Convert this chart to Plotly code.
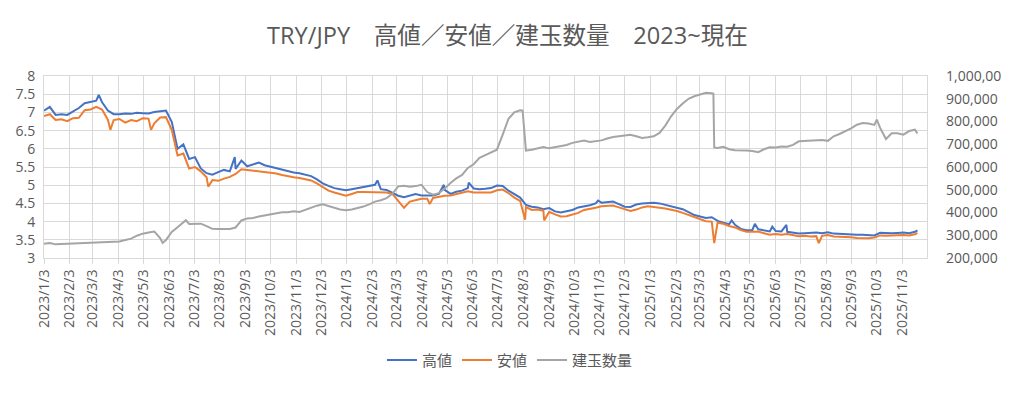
import pandas as pd
import plotly.graph_objects as go

# ---------------- data ----------------
week_dates = pd.date_range("2023-01-03", periods=151, freq="7D")

high_weekly = [
    7.05, 7.15, 6.93, 6.95, 6.93, 7.02, 7.12, 7.25, 7.29, 7.32,
    7.28, 7.05, 6.95, 6.95, 6.97, 6.96, 6.99, 6.98, 6.97, 7.01,
    7.02, 7.05, 6.74, 6.00, 6.12, 5.72, 5.77, 5.46, 5.33, 5.29,
    5.36, 5.42, 5.38, 5.45, 5.68, 5.52, 5.58, 5.62, 5.55, 5.51,
    5.45, 5.42, 5.38, 5.35, 5.33, 5.30, 5.25, 5.16, 5.05, 4.98,
    4.92, 4.89, 4.86, 4.89, 4.92, 4.93, 4.96, 5.01, 4.89, 4.87,
    4.80, 4.71, 4.67, 4.71, 4.76, 4.72, 4.71, 4.72, 4.76, 4.87,
    4.76, 4.82, 4.85, 4.92, 4.91, 4.89, 4.90, 4.92, 4.99, 4.98,
    4.85, 4.76, 4.66, 4.46, 4.41, 4.39, 4.34, 4.37, 4.28, 4.25,
    4.28, 4.32, 4.39, 4.41, 4.45, 4.50, 4.52, 4.54, 4.55, 4.48,
    4.41, 4.40, 4.47, 4.50, 4.52, 4.52, 4.50, 4.46, 4.41, 4.36,
    4.34, 4.26, 4.18, 4.14, 4.10, 4.12, 4.02, 3.97, 3.93, 3.91,
    3.80, 3.76, 3.77, 3.79, 3.76, 3.73, 3.74, 3.73, 3.72, 3.69,
    3.67, 3.68, 3.70, 3.70, 3.68, 3.71, 3.67, 3.66, 3.66, 3.64,
    3.64, 3.64, 3.64, 3.62, 3.69, 3.68, 3.68, 3.69, 3.70, 3.68,
    3.72,
]

low_weekly = [
    6.90, 6.95, 6.79, 6.81, 6.76, 6.84, 6.85, 7.06, 7.08, 7.15,
    7.08, 6.80, 6.79, 6.82, 6.72, 6.79, 6.76, 6.84, 6.83, 6.70,
    6.86, 6.87, 6.52, 5.82, 5.87, 5.46, 5.50, 5.38, 5.22, 5.14,
    5.12, 5.18, 5.23, 5.31, 5.44, 5.42, 5.40, 5.39, 5.37, 5.36,
    5.32, 5.28, 5.24, 5.22, 5.20, 5.16, 5.13, 5.05, 4.94, 4.85,
    4.80, 4.76, 4.71, 4.76, 4.81, 4.81, 4.81, 4.82, 4.81, 4.80,
    4.76, 4.58, 4.38, 4.55, 4.60, 4.63, 4.63, 4.65, 4.69, 4.71,
    4.72, 4.76, 4.78, 4.83, 4.80, 4.80, 4.80, 4.80, 4.86, 4.88,
    4.78, 4.66, 4.57, 4.40, 4.32, 4.33, 4.30, 4.27, 4.20, 4.14,
    4.15, 4.20, 4.24, 4.32, 4.34, 4.38, 4.42, 4.44, 4.44, 4.39,
    4.34, 4.29, 4.33, 4.39, 4.42, 4.41, 4.38, 4.36, 4.33, 4.29,
    4.24, 4.18, 4.11, 4.06, 4.01, 4.00, 3.97, 3.94, 3.88, 3.84,
    3.77, 3.72, 3.72, 3.73, 3.68, 3.64, 3.66, 3.64, 3.66, 3.62,
    3.60, 3.61, 3.59, 3.60, 3.61, 3.63, 3.59, 3.59, 3.57, 3.57,
    3.55, 3.54, 3.54, 3.56, 3.62, 3.61, 3.62, 3.62, 3.63, 3.62,
    3.65,
]

oi_weekly = [
    263000, 266000, 260000, 261000, 262000, 263000, 264000, 266000, 266000, 266000,
    267000, 268000, 270000, 273000, 279000, 285000, 298000, 307000, 312000, 316000,
    288000, 279000, 315000, 335000, 354000, 350000, 352000, 351000, 340000, 328000,
    327000, 327000, 328000, 334000, 365000, 374000, 376000, 382000, 386000, 392000,
    396000, 401000, 401000, 405000, 402000, 412000, 420000, 430000, 436000, 428000,
    420000, 413000, 410000, 413000, 420000, 426000, 436000, 448000, 454000, 463000,
    482000, 515000, 518000, 513000, 516000, 522000, 490000, 478000, 485000, 505000,
    530000, 550000, 565000, 596000, 612000, 640000, 652000, 665000, 676000, 742000,
    812000, 840000, 849000, 672000, 676000, 682000, 688000, 682000, 687000, 691000,
    697000, 706000, 712000, 716000, 710000, 713000, 717000, 725000, 732000, 735000,
    738000, 742000, 735000, 728000, 731000, 735000, 750000, 782000, 823000, 855000,
    879000, 900000, 911000, 920000, 926000, 924000, 684000, 689000, 678000, 674000,
    674000, 672000, 670000, 665000, 678000, 687000, 686000, 690000, 689000, 697000,
    713000, 714000, 715000, 718000, 719000, 715000, 735000, 745000, 757000, 770000,
    786000, 793000, 791000, 785000, 772000, 723000, 748000, 748000, 742000, 758000,
    764000,
]

# single-day spikes and the last data day
high_extra_dates = ["2023-03-10", "2023-08-21", "2024-02-09", "2024-04-29", "2024-05-29",
                    "2024-11-01", "2025-04-11", "2025-05-09", "2025-05-30", "2025-06-16",
                    "2025-11-21"]
high_extra_vals = [7.48, 5.77, 5.13, 5.01, 5.07, 4.58, 4.03, 3.94, 3.86, 3.91, 3.76]

low_extra_dates = ["2023-03-24", "2023-05-12", "2023-07-20", "2024-04-12", "2024-08-05",
                   "2024-08-28", "2025-03-21", "2025-07-25", "2025-11-21"]
low_extra_vals = [6.52, 6.52, 4.96, 4.48, 4.05, 4.03, 3.41, 3.41, 3.69]

oi_extra_dates = ["2023-05-26", "2023-06-23", "2024-08-02", "2024-08-05", "2025-03-20",
                  "2025-03-21", "2025-10-03", "2025-11-21"]
oi_extra_vals = [266000, 366000, 848000, 690000, 922000, 686000, 808000, 747000]

series_names = ["高値", "安値", "建玉数量"]
series_colors = ["#4472C4", "#ED7D31", "#A5A5A5"]

# monthly ticks: 2023/1/3 ... 2025/11/3
month_ticks = pd.date_range("2023-01-01", "2025-11-01", freq="MS") + pd.Timedelta(days=2)

right_tickvals = [200000, 300000, 400000, 500000, 600000, 700000, 800000, 900000, 1000000]
right_ticktext = ["200,000", "300,000", "400,000", "500,000", "600,000",
                  "700,000", "800,000", "900,000", "1,000,00"]

title_text = "TRY/JPY　高値／安値／建玉数量　2023~現在"


def merge(dates, vals, extra_dates, extra_vals):
    s = pd.Series(list(vals) + list(extra_vals),
                  index=list(pd.to_datetime(dates)) + list(pd.to_datetime(extra_dates)))
    s = s.sort_index()
    return s.index, s.values


hx, hy = merge(week_dates, high_weekly, high_extra_dates, high_extra_vals)
lx, ly = merge(week_dates, low_weekly, low_extra_dates, low_extra_vals)
ox, oy = merge(week_dates, oi_weekly, oi_extra_dates, oi_extra_vals)

FONT = "Open Sans, Noto Sans CJK JP, sans-serif"
TXT = "#595959"
GRID = "#D9D9D9"

fig = go.Figure()
fig.add_trace(go.Scatter(x=hx, y=hy, name=series_names[0], mode="lines",
                         line=dict(color=series_colors[0], width=2)))
fig.add_trace(go.Scatter(x=lx, y=ly, name=series_names[1], mode="lines",
                         line=dict(color=series_colors[1], width=2)))
fig.add_trace(go.Scatter(x=ox, y=oy, name=series_names[2], mode="lines", yaxis="y2",
                         line=dict(color=series_colors[2], width=2)))

fig.update_layout(
    template="none",
    width=1024, height=395,
    margin=dict(l=44, r=97, t=76, b=137, autoexpand=False),
    paper_bgcolor="white", plot_bgcolor="white",
    font=dict(family=FONT, color=TXT, size=14),
    title=dict(text=title_text, x=0.4956, xref="container", xanchor="center",
               y=0.91, yref="container", yanchor="middle", automargin=False,
               font=dict(size=23.6, color=TXT, family=FONT)),
    xaxis=dict(
        type="date", range=["2023-01-03", "2025-12-02 12:00"],
        tickmode="array", tickvals=list(month_ticks),
        tickformat="%Y/%-m/%-d", automargin=False,
        tickangle=-90, ticks="outside", ticklen=5, tickcolor=GRID, tickwidth=1,
        showgrid=True, gridcolor=GRID, gridwidth=1,
        showline=True, linecolor=GRID, linewidth=1, mirror=True,
        tickfont=dict(size=14, color=TXT), zeroline=False,
    ),
    yaxis=dict(
        range=[3, 8], dtick=0.5, tick0=3, automargin=False,
        showgrid=True, gridcolor=GRID, gridwidth=1,
        showline=True, linecolor=GRID, linewidth=1, mirror=True,
        ticks="", ticklabelstandoff=5, zeroline=False,
        tickfont=dict(size=14, color=TXT),
    ),
    yaxis2=dict(
        overlaying="y", side="right", range=[200000, 1000000], automargin=False,
        tickvals=right_tickvals, ticktext=right_ticktext,
        showgrid=False, zeroline=False, ticks="", ticklabelstandoff=18,
        showline=False,
        tickfont=dict(size=14, color=TXT),
    ),
    legend=dict(orientation="h", xref="container", yref="container",
                x=0.498, xanchor="center", y=0.088, yanchor="middle",
                font=dict(size=15, color=TXT, family=FONT),
                bgcolor="rgba(0,0,0,0)"),
    showlegend=True,
)

fig.write_html("out.html",
               config={"displayModeBar": False},
               post_script="document.body.style.margin='0';document.body.style.overflow='hidden';")
